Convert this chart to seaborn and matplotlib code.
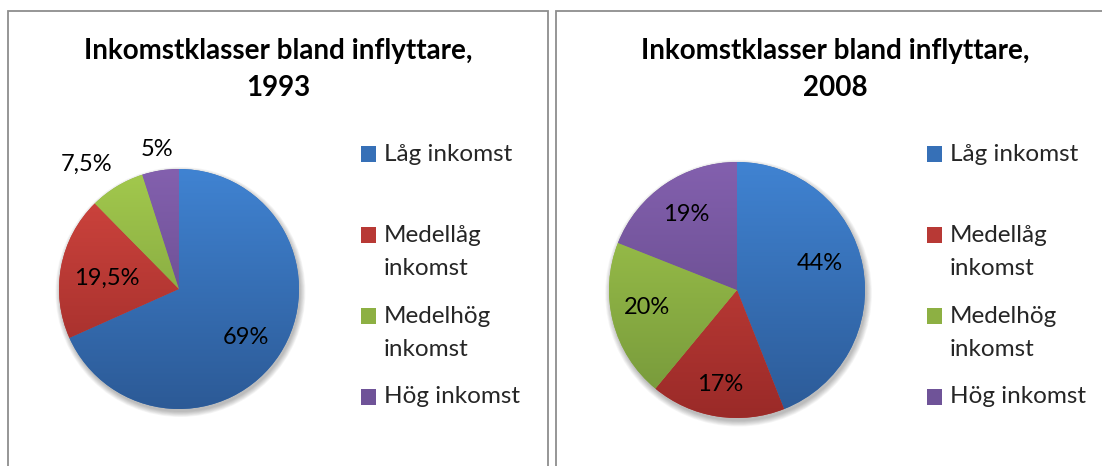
import numpy as np
import matplotlib
matplotlib.use("Agg")
import matplotlib.pyplot as plt
import matplotlib.patches as mpatches
from matplotlib.colors import LinearSegmentedColormap
from matplotlib.legend_handler import HandlerPatch
import seaborn as sns

# ---------------- data ----------------
categories = ["Låg inkomst", "Medellåg inkomst", "Medelhög inkomst", "Hög inkomst"]
legend_labels = ["Låg inkomst\n", "Medellåg\ninkomst", "Medelhög\ninkomst", "Hög inkomst\n"]
years = ["1993", "2008"]
values_1993 = [69, 19.5, 7.5, 5]
values_2008 = [44, 17, 20, 19]
label_text_1993 = ["69%", "19,5%", "7,5%", "5%"]
label_text_2008 = ["44%", "17%", "20%", "19%"]
title_text = "Inkomstklasser bland inflyttare,"

# ---------------- style ----------------
sns.set_theme(style="white")
plt.rcParams["font.family"] = ["Lato", "DejaVu Sans"]

W, H = 1102, 466
fig = plt.figure(figsize=(W / 100, H / 100), dpi=100)
fig.patch.set_facecolor("white")

top_colors = ["#4083D2", "#D2463F", "#A3C94D", "#8360AE"]
bot_colors = ["#2C5A96", "#9A2A28", "#74963A", "#5C4480"]
mid_colors = ["#3670B7", "#B83935", "#8DB043", "#6F5398"]

# panel frames (figure pixels)
frame_color = "#8E8E8E"
fig.patches.append(mpatches.Rectangle((8 / W, -0.1), (548 - 8) / W, (1 - 11 / H) + 0.1,
                                      transform=fig.transFigure, fill=False,
                                      edgecolor=frame_color, lw=1.3))
fig.patches.append(mpatches.Rectangle((556 / W, -0.1), 1.0, (1 - 11 / H) + 0.1,
                                      transform=fig.transFigure, fill=False,
                                      edgecolor=frame_color, lw=1.3))

panels = [
    dict(values=values_1993, texts=label_text_1993, year=years[0],
         cx=179, cy=289, r=120, title_x=278, leg_x=361,
         dist=[0.69, 0.61, 1.29, 1.18], nudge=[-2.6, 2.6, 5.4, 0.0]),
    dict(values=values_2008, texts=label_text_2008, year=years[1],
         cx=737, cy=290, r=128, title_x=835, leg_x=927,
         dist=[0.68, 0.75, 0.72, 0.71], nudge=[7.2, -1.0, -3.2, 0.0]),
]

pad = 1.15
line_step_px = 34.0
leg_fs = 17.5


def make_top_square(shift_pt):
    def f(legend, orig_handle, xdescent, ydescent, width, height, fontsize):
        return mpatches.Rectangle((-xdescent, -ydescent + shift_pt), width, height)
    return f


for p in panels:
    size = 2 * p["r"] * pad
    ax = fig.add_axes([(p["cx"] - size / 2) / W, (H - p["cy"] - size / 2) / H,
                       size / W, size / H])
    wedges, _ = ax.pie(p["values"], colors=mid_colors, startangle=90,
                       counterclock=False, radius=1.0,
                       wedgeprops=dict(linewidth=0, edgecolor="none"))
    # soft shadow
    for k in range(8):
        ax.add_patch(mpatches.Circle((0.012, -0.025), 1.0 + 0.006 * k,
                                     facecolor="#000000", alpha=0.035,
                                     edgecolor="none", zorder=0))
    grad = np.linspace(0, 1, 256).reshape(-1, 1)
    for w, ct, cb in zip(wedges, top_colors, bot_colors):
        w.set_zorder(1)
        cmap = LinearSegmentedColormap.from_list("g", [cb, ct])
        im = ax.imshow(grad, cmap=cmap, extent=[-1, 1, -1, 1], origin="lower",
                       aspect="auto", zorder=2, interpolation="bilinear")
        im.set_clip_path(w)
    # labels
    for w, txt, d, nd in zip(wedges, p["texts"], p["dist"], p["nudge"]):
        ang = np.deg2rad((w.theta1 + w.theta2) / 2 + nd)
        ax.text(d * np.cos(ang), d * np.sin(ang), txt, ha="center", va="center",
                fontsize=17, color="black", zorder=5, clip_on=False)
    ax.set_xlim(-pad, pad)
    ax.set_ylim(-pad, pad)
    ax.set_aspect("equal")
    ax.axis("off")

    # title
    fig.text(p["title_x"] / W, 1 - 38 / H, title_text + "\n" + p["year"],
             ha="center", va="top", fontsize=20, fontweight="bold",
             linespacing=1.5, color="black")

    # legend
    shift_pt = (line_step_px / 2) * 72 / 100
    hmap = {w: HandlerPatch(patch_func=make_top_square(shift_pt)) for w in wedges}
    leg = ax.legend(wedges, legend_labels, loc="upper left",
                    bbox_to_anchor=(p["leg_x"] / W, 1 - 144 / H),
                    bbox_transform=fig.transFigure, frameon=False,
                    fontsize=leg_fs, handlelength=0.62, handleheight=0.62,
                    handletextpad=0.33, labelspacing=1.08, borderpad=0,
                    borderaxespad=0, handler_map=hmap)
    for t in leg.get_texts():
        t.set_linespacing(1.74)

fig.savefig("out.png", dpi=100, facecolor="white")
